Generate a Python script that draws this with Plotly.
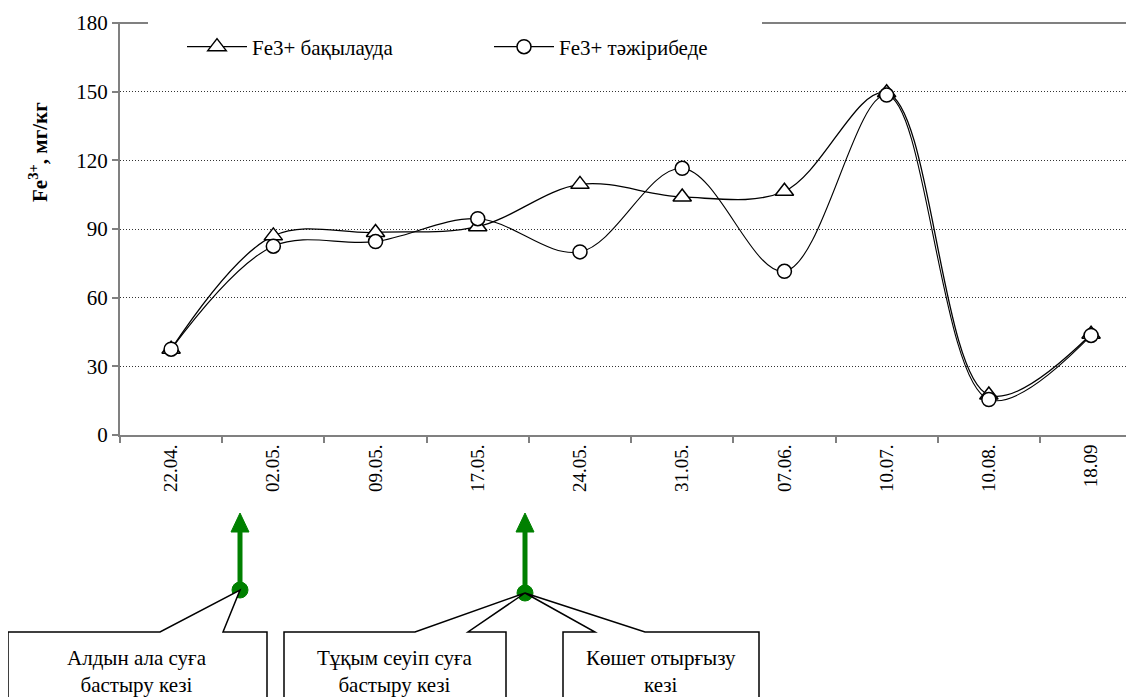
import plotly.graph_objects as go

categories = ["22.04.", "02.05.", "09.05.", "17.05.", "24.05.", "31.05.", "07.06.", "10.07.", "10.08.", "18.09"]
control = [37.5, 87, 88.5, 91, 109.5, 104, 106.5, 149.5, 17.5, 44]
experiment = [37.5, 82.5, 84.5, 94.5, 80, 116.5, 71.5, 148.5, 15.5, 43.5]
yticks = [0, 30, 60, 90, 120, 150, 180]

# page body has an 8px margin; work in screenshot coordinates
OFF = 8
W, H = 1134 - OFF, 697 - OFF
PLOT_L, PLOT_T, PLOT_B, PLOT_R = 120, 23, 435, 1134
PW, PH = PLOT_R - PLOT_L, PLOT_B - PLOT_T
FONT = "Liberation Serif"


def px(x):
    return (x - PLOT_L) / PW


def py(y):
    return (PLOT_B - y) / PH


fig = go.Figure()
fig.add_trace(go.Scatter(
    x=categories, y=control, name="Fe3+ бақылауда", mode="lines+markers",
    line=dict(color="black", width=1.3, shape="spline", smoothing=1),
    marker=dict(symbol="triangle-up", size=16, color="white", line=dict(color="black", width=1.5)),
))
fig.add_trace(go.Scatter(
    x=categories, y=experiment, name="Fe3+ тәжірибеде", mode="lines+markers",
    line=dict(color="black", width=1.1, shape="spline", smoothing=1),
    marker=dict(symbol="circle", size=14, color="white", line=dict(color="black", width=1.5)),
))

shapes = []
shapes.append(dict(type="rect", xref="paper", yref="paper", x0=px(121), x1=px(1134), y0=py(25), y1=py(21),
                   fillcolor="white", line=dict(width=0), layer="above"))
for a, b in [(114, 148), (762, 1134)]:
    shapes.append(dict(type="line", xref="paper", yref="paper", x0=px(a), x1=px(b), y0=1, y1=1,
                       line=dict(color="#808080", width=2), layer="above"))

green = "#008000"
for ax, cy in [(240, 590), (525, 593)]:
    shapes.append(dict(type="line", xref="paper", yref="paper", x0=px(ax), x1=px(ax), y0=py(cy), y1=py(530),
                       line=dict(color=green, width=5)))
    shapes.append(dict(type="path", xref="paper", yref="paper",
                       path=f"M {px(ax-9)},{py(532)} L {px(ax+9)},{py(532)} L {px(ax)},{py(513)} Z",
                       fillcolor=green, line=dict(color=green, width=1)))
    shapes.append(dict(type="circle", xref="paper", yref="paper", x0=px(ax-8), x1=px(ax+8), y0=py(cy+8), y1=py(cy-8),
                       fillcolor=green, line=dict(color=green, width=1)))


def callout(x0, x1, ytop, ybot, w0, w1, tx, ty):
    pts = [(x0, ytop), (w0, ytop), (tx, ty), (w1, ytop), (x1, ytop), (x1, ybot), (x0, ybot)]
    path = "M " + " L ".join(f"{px(a)},{py(b)}" for a, b in pts) + " Z"
    return dict(type="path", xref="paper", yref="paper", path=path, fillcolor="white",
                line=dict(color="black", width=1.5))


shapes.append(callout(8, 267, 632, 702, 160, 223, 240, 590))
shapes.append(callout(284, 506, 632, 702, 415, 468, 525, 593))
shapes.append(callout(563, 759, 632, 702, 595, 645, 525, 593))

afont = dict(family=FONT, size=21, color="black")
annotations = [
    dict(xref="paper", yref="paper", x=px(38), y=py(152), xanchor="center", yanchor="middle",
         text="<b>Fe<sup>3+</sup>, мг/кг</b>", textangle=-90, showarrow=False, font=afont),
    dict(xref="paper", yref="paper", x=px(137), y=py(671), xanchor="center", yanchor="middle",
         text="Алдын ала суға<br>бастыру кезі", showarrow=False, font=afont),
    dict(xref="paper", yref="paper", x=px(395), y=py(671), xanchor="center", yanchor="middle",
         text="Тұқым сеуіп суға<br>бастыру кезі", showarrow=False, font=afont),
    dict(xref="paper", yref="paper", x=px(661), y=py(671), xanchor="center", yanchor="middle",
         text="Көшет отырғызу<br>кезі", showarrow=False, font=afont),
]

fig.update_layout(
    width=W, height=H,
    margin=dict(l=PLOT_L - OFF, r=0, t=PLOT_T - OFF, b=H - (PLOT_B - OFF)),
    paper_bgcolor="white", plot_bgcolor="white",
    font=dict(family=FONT, color="black"),
    showlegend=True,
    legend=dict(orientation="h", x=px(182), y=py(47), xanchor="left", yanchor="middle",
                bgcolor="rgba(0,0,0,0)", font=dict(family=FONT, size=21, color="black"),
                entrywidth=232, itemwidth=60),
    xaxis=dict(type="category", range=[-0.5, 9.42], showline=True, linecolor="#808080", linewidth=2,
               ticks="outside", tickson="boundaries", ticklen=6, tickcolor="#808080", tickwidth=1.5,
               tickangle=-90, tickfont=dict(family=FONT, size=19, color="black"), showgrid=False),
    yaxis=dict(range=[0, 180], tickvals=yticks, showline=True, linecolor="#808080", linewidth=2,
               ticks="outside", ticklen=6, tickcolor="#808080", tickwidth=1.5,
               tickfont=dict(family=FONT, size=21, color="black"),
               showgrid=True, gridcolor="#333333", griddash="1px,2px", gridwidth=1, zeroline=False),
    shapes=shapes, annotations=annotations,
)

fig.write_html("out.html")
